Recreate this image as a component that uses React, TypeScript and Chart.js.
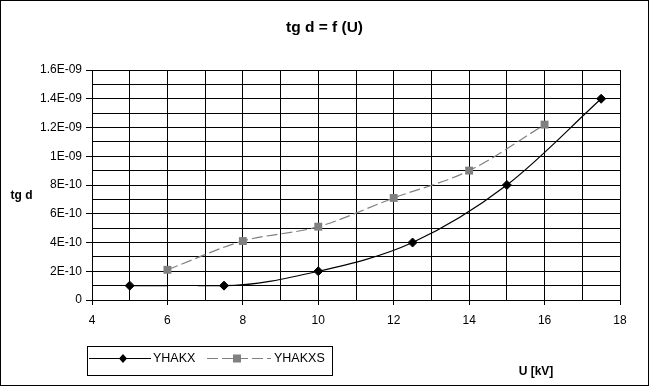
import { useEffect, useRef } from 'react';
import { Chart, registerables } from 'chart.js';

Chart.register(...registerables);

const seriesNames = ['YHAKX', 'YHAKXS'];
const yhakxU = [5, 7.5, 10, 12.5, 15, 17.5];
const yhakxTg = [1e-10, 1e-10, 2e-10, 4e-10, 8e-10, 1.4e-9];
const yhakxsU = [6, 8, 10, 12, 14, 16];
const yhakxsTg = [2.1e-10, 4.1e-10, 5.1e-10, 7.1e-10, 9e-10, 1.22e-9];
const xTickLabels = ['4', '6', '8', '10', '12', '14', '16', '18'];
const yTickLabels = ['0', '2E-10', '4E-10', '6E-10', '8E-10', '1E-09', '1.2E-09', '1.4E-09', '1.6E-09'];
const titleText = 'tg d = f (U)';
const xTitle = 'U [kV]';
const yTitle = 'tg d';

const FONT = '"Liberation Sans", Arial, sans-serif';
const GRAY = '#808080';
const GRAY_DASH = [11, 4];

const decorPlugin = {
  id: 'decor',
  afterDraw(chart: any) {
    const ctx = chart.ctx as CanvasRenderingContext2D;
    ctx.save();
    ctx.strokeStyle = '#000';
    ctx.lineWidth = 1;
    ctx.setLineDash([]);
    ctx.strokeRect(0.5, 0.5, 648, 385);
    ctx.fillStyle = '#000';
    ctx.textAlign = 'center';
    ctx.textBaseline = 'middle';
    ctx.font = `bold 15.5px ${FONT}`;
    ctx.fillText(titleText, 324.5, 28);
    ctx.font = `bold 12px ${FONT}`;
    ctx.fillText(yTitle, 21.5, 196);
    ctx.fillText(xTitle, 536, 372);
    // legend
    ctx.strokeRect(87.5, 346.5, 245, 29);
    const ly = 358.5;
    ctx.lineWidth = 1.2;
    ctx.strokeStyle = '#000';
    ctx.beginPath();
    ctx.moveTo(89, ly);
    ctx.lineTo(151, ly);
    ctx.stroke();
    ctx.fillStyle = '#000';
    ctx.beginPath();
    ctx.moveTo(123, ly - 4.5);
    ctx.lineTo(127, ly);
    ctx.lineTo(123, ly + 4.5);
    ctx.lineTo(119, ly);
    ctx.closePath();
    ctx.fill();
    ctx.strokeStyle = GRAY;
    ctx.lineWidth = 1.2;
    ctx.setLineDash(GRAY_DASH);
    ctx.beginPath();
    ctx.moveTo(207, ly);
    ctx.lineTo(271, ly);
    ctx.stroke();
    ctx.setLineDash([]);
    ctx.fillStyle = GRAY;
    ctx.fillRect(233, ly - 4, 8, 8);
    ctx.fillStyle = '#000';
    ctx.font = `12.5px ${FONT}`;
    ctx.textAlign = 'left';
    ctx.fillText(seriesNames[0], 153, ly);
    ctx.fillText(seriesNames[1], 274, ly);
    ctx.restore();
  },
};

export default function App() {
  const ref = useRef<HTMLCanvasElement>(null);
  useEffect(() => {
    if (!ref.current) return;
    const chart = new Chart(ref.current, {
      type: 'line',
      data: {
        datasets: [
          {
            label: seriesNames[0],
            data: yhakxU.map((u, i) => ({ x: u, y: yhakxTg[i] })),
            borderColor: '#000',
            backgroundColor: '#000',
            borderWidth: 1.2,
            pointStyle: 'rectRot',
            pointRadius: 4.5,
            pointBackgroundColor: '#000',
            pointBorderColor: '#000',
            pointBorderWidth: 1,
            cubicInterpolationMode: 'monotone',
            fill: false,
            segment: {
              borderDash: (c: any) => (c.p0DataIndex === 0 ? [38, 30] : undefined),
            },
          },
          {
            label: seriesNames[1],
            data: yhakxsU.map((u, i) => ({ x: u, y: yhakxsTg[i] })),
            borderColor: GRAY,
            backgroundColor: GRAY,
            borderWidth: 1.2,
            borderDash: GRAY_DASH,
            pointStyle: 'rect',
            pointRadius: 5.6,
            pointBackgroundColor: GRAY,
            pointBorderColor: GRAY,
            pointBorderWidth: 0,
            cubicInterpolationMode: 'monotone',
            fill: false,
          },
        ],
      },
      options: {
        responsive: false,
        animation: false,
        devicePixelRatio: 1,
        layout: { padding: { left: 0, top: 70, right: 29, bottom: 0 } },
        plugins: {
          legend: { display: false },
          title: { display: false },
          tooltip: { enabled: false },
        },
        scales: {
          x: {
            type: 'linear',
            min: 4,
            max: 18,
            afterFit: (s: any) => {
              s.height = 86;
            },
            afterBuildTicks: (s: any) => {
              const t = [];
              for (let v = 4; v <= 18; v++) t.push({ value: v });
              s.ticks = t;
            },
            ticks: {
              autoSkip: false,
              maxRotation: 0,
              padding: 8,
              color: '#000',
              font: { family: FONT, size: 12 },
              callback: (v: any, i: number) => (i % 2 === 0 ? xTickLabels[i / 2] : ''),
            },
            grid: {
              color: '#000',
              lineWidth: 1,
              tickLength: 5,
              tickColor: (c: any) => (c.index % 2 === 0 ? '#000' : 'rgba(0,0,0,0)'),
            },
            border: { display: true, color: '#000', width: 1 },
          },
          y: {
            type: 'linear',
            min: 0,
            max: 1.6e-9,
            afterFit: (s: any) => {
              s.width = 92;
            },
            afterBuildTicks: (s: any) => {
              const t = [];
              for (let i = 0; i <= 16; i++) t.push({ value: i * 1e-10 });
              s.ticks = t;
            },
            ticks: {
              autoSkip: false,
              padding: 4,
              color: '#000',
              font: { family: FONT, size: 12 },
              callback: (v: any, i: number) => (i % 2 === 0 ? yTickLabels[i / 2] : ''),
            },
            grid: {
              color: '#000',
              lineWidth: 1,
              tickLength: 6,
              tickColor: (c: any) => (c.index % 2 === 0 ? '#000' : 'rgba(0,0,0,0)'),
            },
            border: { display: true, color: '#000', width: 1 },
          },
        },
      },
      plugins: [decorPlugin],
    } as any);
    return () => chart.destroy();
  }, []);
  return (
    <div style={{ position: 'absolute', left: 0, top: 0, width: 649, height: 386, background: '#fff' }}>
      <canvas ref={ref} width={649} height={386} />
    </div>
  );
}
